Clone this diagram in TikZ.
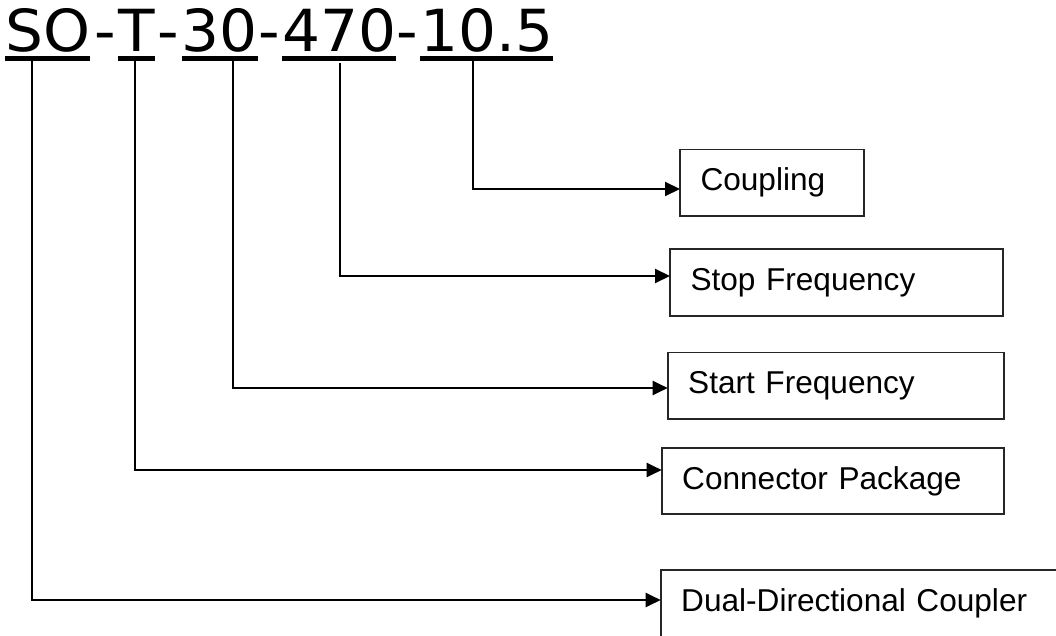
\documentclass[tikz,border=0pt]{standalone}
\usepackage{fontspec}
\setmainfont{Liberation Sans}
\newfontfamily\codefont[FakeStretch=1.03]{DejaVu Sans}
\usetikzlibrary{arrows.meta}

\begin{document}
\begin{tikzpicture}[
  x=1pt,y=-1pt,
  part/.style={anchor=base west,inner sep=0pt,text depth=0pt,font=\codefont\fontsize{58}{58}\selectfont},
  field/.style={draw=black!85,line width=1.8pt,anchor=west,outer sep=0pt,minimum height=66.5pt,inner xsep=20.5pt,inner ysep=0pt,align=left,font=\fontsize{31.6}{36}\selectfont},
  uline/.style={line width=4.5pt},
  link/.style={-{Triangle[length=15pt,width=14pt]},line width=2pt}
]
\fill[white] (0,0) rectangle (1056,636);
\useasboundingbox (0,0) rectangle (1056,636);
\clip (0,0) rectangle (1056,636);

% model code
\node[part] (cType) at (5,51.7) {SO};
\node[part,anchor=base] (d1) at (105,51.7) {-};
\node[part] (cConn) at (118.3,51.7) {T};
\node[part,anchor=base] (d2) at (168.4,51.7) {-};
\node[part] (cStart) at (181.7,51.7) {30};
\node[part,anchor=base] (d3) at (269,51.7) {-};
\node[part] (cStop) at (282,51.7) {470};
\node[part,anchor=base] (d4) at (407,51.7) {-};
\node[part] (cCoup) at (420,51.7) {10.5};

\foreach \p in {cType,cConn,cStart,cStop,cCoup}
  \draw[uline] ([yshift=-6.7pt]\p.base west) -- ([yshift=-6.7pt]\p.base east);

% meaning of each part
\node[field,text width=143pt] (bCoup) at (680,182.7) {Coupling};
\node[field,text width=292pt] (bStop) at (670,282.5) {Stop Frequency};
\node[field,text width=295.6pt] (bStart) at (667.7,385.7) {Start Frequency};
\node[field,text width=301.6pt] (bConn) at (661.7,481) {Connector Package};
\node[field,text width=373pt] (bType) at (660.7,603.3) {Dual-Directional Coupler};

\draw[link] ([xshift=53.3pt,yshift=-9pt]cCoup.base west) |- ([yshift=-6.3pt]bCoup.west);
\draw[link] ([xshift=58pt,yshift=-11pt]cStop.base west) |- ([yshift=6.5pt]bStop.west);
\draw[link] ([xshift=51.6pt,yshift=-9pt]cStart.base west) |- ([yshift=-2.3pt]bStart.west);
\draw[link] ([xshift=16.7pt,yshift=-9pt]cConn.base west) |- ([yshift=11pt]bConn.west);
\draw[link] ([xshift=26.7pt,yshift=-9pt]cType.base west) |- ([yshift=3.3pt]bType.west);

\end{tikzpicture}
\end{document}
